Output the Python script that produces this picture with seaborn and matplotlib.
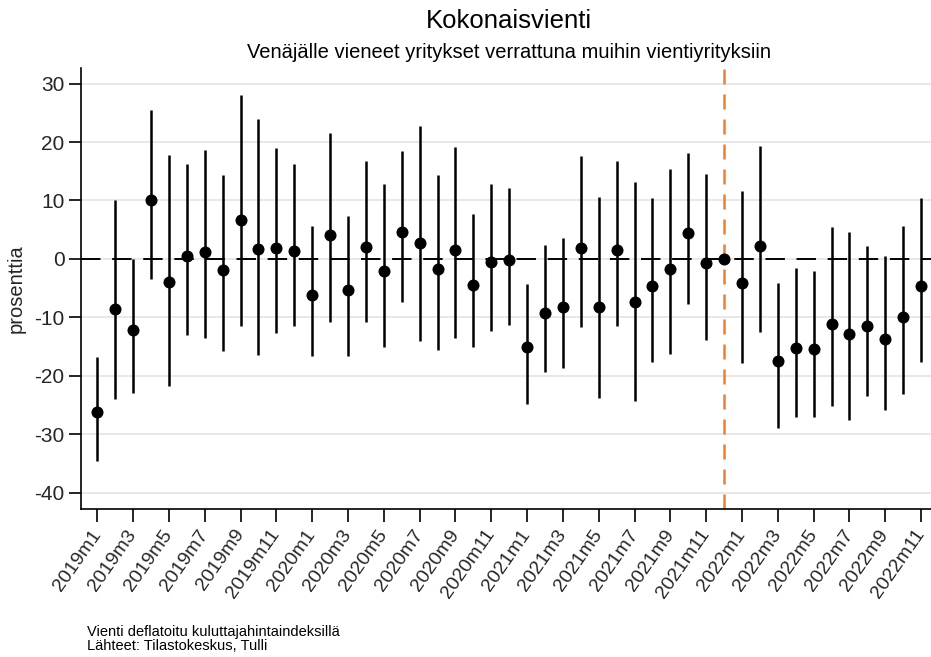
import numpy as np
import pandas as pd
import matplotlib
matplotlib.use("Agg")
import matplotlib.pyplot as plt
import seaborn as sns

months = [f"{y}m{m}" for y in (2019, 2020, 2021, 2022) for m in range(1, 13)][:47]

estimate = [-26.2, -8.5, -12.2, 10.0, -4.0, 0.5, 1.2, -1.8, 6.6, 1.7, 1.9, 1.4,
            -6.1, 4.1, -5.3, 2.05, -2.05, 4.7, 2.7, -1.7, 1.5, -4.4, -0.5, -0.2,
            -15.1, -9.2, -8.2, 1.9, -8.15, 1.6, -7.3, -4.55, -1.65, 4.4, -0.75, 0.0,
            -4.15, 2.3, -17.45, -15.15, -15.45, -11.1, -12.9, -11.5, -13.6, -9.95, -4.55]
lower = [-34.5, -23.9, -22.9, -3.5, -21.7, -13.0, -13.5, -15.7, -11.5, -16.4, -12.6, -11.5,
         -16.5, -10.8, -16.5, -10.8, -15.0, -7.35, -14.1, -15.5, -13.5, -15.0, -12.3, -11.2,
         -24.8, -19.4, -18.6, -11.7, -23.8, -11.5, -24.2, -17.55, -16.2, -7.7, -13.9, 0.0,
         -17.7, -12.5, -28.95, -26.95, -26.95, -25.1, -27.5, -23.4, -25.75, -23.1, -17.55]
upper = [-16.8, 10.1, 0.0, 25.4, 17.8, 16.2, 18.6, 14.4, 28.1, 23.9, 18.9, 16.2,
         5.7, 21.5, 7.35, 16.75, 12.9, 18.4, 22.8, 14.3, 19.1, 7.75, 12.9, 12.1,
         -4.2, 2.4, 3.65, 17.55, 10.65, 16.75, 13.2, 10.5, 15.45, 18.1, 14.5, 0.0,
         11.6, 19.3, -4.05, -1.55, -2.05, 5.5, 4.6, 2.3, 0.45, 5.6, 10.5]
reference_month = "2021m12"
yticks = [30, 20, 10, 0, -10, -20, -30, -40]

title = "Kokonaisvienti"
subtitle = "Venäjälle vieneet yritykset verrattuna muihin vientiyrityksiin"
ylabel = "prosenttia"
footnote = "Vienti deflatoitu kuluttajahintaindeksillä\nLähteet: Tilastokeskus, Tulli"

df = pd.DataFrame({"month": months, "estimate": estimate, "lower": lower, "upper": upper})
df["pos"] = np.arange(len(df))

sns.set_theme(style="white")
plt.rcParams["font.family"] = ["Liberation Sans", "DejaVu Sans"]

W, H = 931, 657
fig = plt.figure(figsize=(W / 100, H / 100), dpi=100)
left, right, bottom, top = 81.3, 937, 509, 68.3
ax = fig.add_axes([left / W, 1 - bottom / H, (right - left) / W, (bottom - top) / H])

for yv in yticks:
    ax.axhline(yv, color="#e6e6e6", lw=1.3, zorder=0)
ax.axhline(0, color="black", lw=1.4, dashes=(10, 6), zorder=1)

ref_pos = months.index(reference_month)
ax.axvline(ref_pos, color="#f07f2b", lw=1.8, dashes=(6, 4), zorder=1)

ax.vlines(df["pos"], df["lower"], df["upper"], color="black", lw=1.8, zorder=2)
sns.scatterplot(data=df, x="pos", y="estimate", ax=ax, color="black", s=75,
                edgecolor="black", linewidth=0, zorder=3, legend=False)

ax.set_xlim(-0.893, 46.89)
ax.set_ylim(-42.74, 32.6)
ax.set_yticks(yticks)
ax.set_yticklabels([str(v) for v in yticks], fontsize=15)
ax.set_xticks(df["pos"][::2])
ax.set_xticklabels(df["month"][::2], rotation=55, ha="right", va="center",
                   rotation_mode="anchor", fontsize=14)
ax.tick_params(axis="both", which="major", length=9, width=1.2, color="black",
               bottom=True, left=True, direction="out", pad=3)
ax.tick_params(axis="x", pad=7)
ax.set_xlabel("")
ax.set_ylabel(ylabel, fontsize=14.5, labelpad=6)
for s in ["top", "right"]:
    ax.spines[s].set_visible(False)
for s in ["left", "bottom"]:
    ax.spines[s].set_color("black")
    ax.spines[s].set_linewidth(1.2)

fig.text(509 / W, 1 - 20.5 / H, title, ha="center", va="center", fontsize=18.5, color="black")
fig.text(509 / W, 1 - 53 / H, subtitle, ha="center", va="center", fontsize=14.5, color="black")
fig.text(87 / W, 1 - 639 / H, footnote, ha="left", va="center", fontsize=10.5,
         linespacing=0.95, color="black")

fig.savefig("out.png", dpi=100)
